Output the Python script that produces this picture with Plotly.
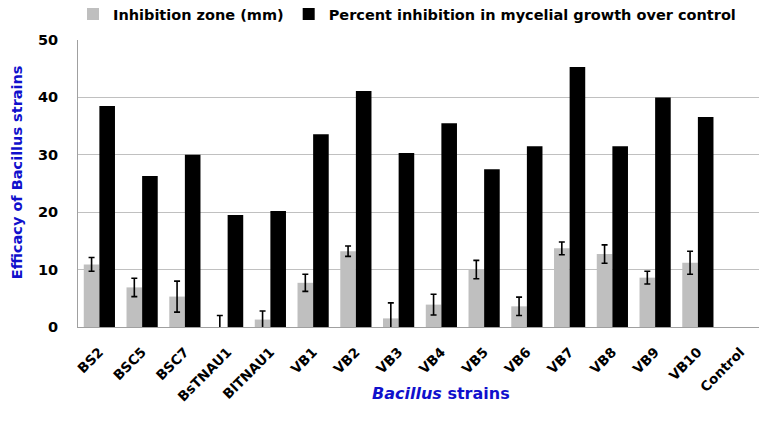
import plotly.graph_objects as go

strains = ["BS2", "BSC5", "BSC7", "BsTNAU1", "BlTNAU1", "VB1", "VB2", "VB3", "VB4",
           "VB5", "VB6", "VB7", "VB8", "VB9", "VB10", "Control"]
zone = [10.9, 6.9, 5.3, 0.0, 1.3, 7.7, 13.2, 1.5, 3.9, 10.0, 3.6, 13.7, 12.7, 8.6, 11.2, None]
zone_err = [1.2, 1.6, 2.7, 2.0, 1.5, 1.5, 0.9, 2.7, 1.8, 1.6, 1.6, 1.1, 1.6, 1.1, 2.0, None]
percent = [38.5, 26.3, 30.0, 19.5, 20.2, 33.6, 41.1, 30.3, 35.5, 27.5, 31.5, 45.3, 31.5, 40.0, 36.6, 0.0]
yticks = [0, 10, 20, 30, 40, 50]

font_fam = "DejaVu Sans"
blue = "#1010CC"

fig = go.Figure()
fig.add_trace(go.Bar(
    x=strains, y=zone, name="<b>Inhibition zone (mm)</b>",
    marker=dict(color="#BFBFBF", line=dict(width=0)),
    error_y=dict(type="data", array=zone_err, visible=True, color="black", thickness=1.6, width=3),
))
fig.add_trace(go.Bar(
    x=strains, y=percent, name="<b>Percent inhibition in mycelial growth over control</b>",
    marker=dict(color="black", line=dict(width=0)),
))

# page body has an 8px default margin, so the figure is sized 8px smaller
fig.update_layout(
    width=759, height=429,
    margin=dict(l=70, r=5, t=32, b=110, autoexpand=False),
    plot_bgcolor="white", paper_bgcolor="white",
    barmode="group", bargap=0.27, bargroupgap=0,
    font=dict(family=font_fam, color="black"),
    legend=dict(orientation="h", x=0.481, xanchor="center", y=1.09, yanchor="middle",
                font=dict(size=14.5, family=font_fam), itemwidth=30, traceorder="normal",
                bgcolor="rgba(0,0,0,0)"),
    showlegend=True,
    annotations=[
        dict(text="<b>Efficacy of Bacillus strains</b>", xref="paper", yref="paper",
             x=-0.089, y=0.54, xanchor="center", yanchor="middle", textangle=-90,
             showarrow=False, font=dict(size=14.5, color=blue, family=font_fam)),
        dict(text="<b><i>Bacillus</i> strains</b>", xref="paper", yref="paper",
             x=0.53, y=-0.23, xanchor="center", yanchor="middle",
             showarrow=False, font=dict(size=16, color=blue, family=font_fam)),
    ],
)
fig.update_yaxes(
    range=[0, 50], tickvals=yticks, ticktext=[f"<b>{v}</b>" for v in yticks],
    tickfont=dict(size=14.5, family=font_fam), showgrid=True, gridcolor="#C0C0C0", gridwidth=1,
    showline=True, linecolor="#A0A0A0", linewidth=1, ticks="", ticklen=0,
    ticklabelstandoff=16, automargin=False,
    zeroline=False,
)
fig.update_xaxes(
    tickangle=-45, tickfont=dict(size=13.5, family=font_fam),
    tickvals=strains, ticktext=[f"<b>{s}</b>" for s in strains],
    showline=True, linecolor="#A0A0A0", linewidth=1, ticks="",
    ticklabelstandoff=11, automargin=False,
)

fig.write_html("out.html")
